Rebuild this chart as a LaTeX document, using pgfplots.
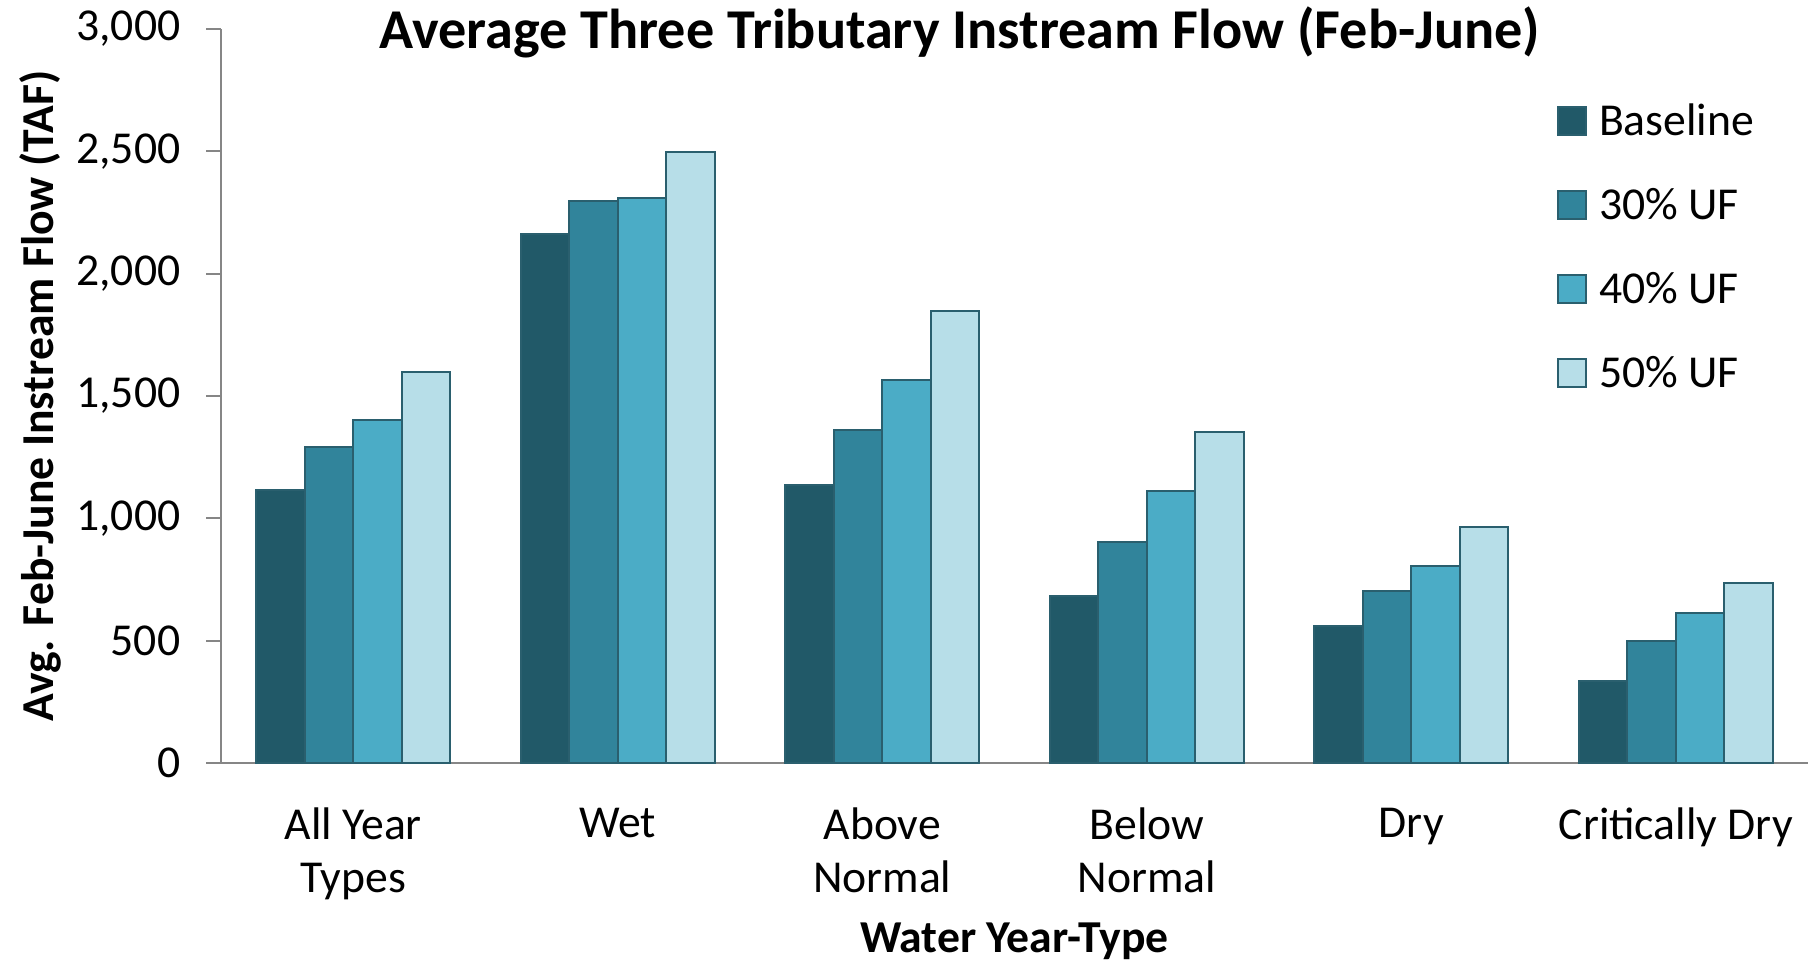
\documentclass[border=0pt]{standalone}
\usepackage{fontspec}
\setmainfont{Carlito}
\usepackage{pgfplots}
\pgfplotsset{compat=1.18}
\definecolor{cBase}{HTML}{215968}
\definecolor{cThirty}{HTML}{31849B}
\definecolor{cForty}{HTML}{4BACC6}
\definecolor{cFifty}{HTML}{B7DEE8}
\definecolor{cEdge}{HTML}{2A5F6E}
\definecolor{axisgray}{HTML}{868686}
\begin{document}
\begin{tikzpicture}
\path[use as bounding box] (0,0) rectangle (180.8mm,96mm);
\begin{axis}[
  at={(22.1mm,19.7mm)}, anchor=south west,
  scale only axis, width=158.7mm, height=73.4mm,
  xmin=-0.5, xmax=5.5, ymin=0, ymax=3000,
  ybar=0pt, bar width=4.84mm,
  axis x line*=bottom, axis y line*=left,
  axis line style={draw=axisgray, line width=0.2mm},
  xtick={0,1,2,3,4,5},
  xticklabels={{All Year\\Types},{Wet},{Above\\Normal},{Below\\Normal},{Dry},{Critically Dry}},
  x tick style={draw=none},
  xticklabel style={align=center, inner sep=0pt, yshift=-2.9mm, font=\fontsize{13}{15}\selectfont},
  ytick={0,500,1000,1500,2000,2500,3000},
  y tick style={draw=axisgray, line width=0.2mm},
  tick align=outside, major tick length=1.5mm,
  scaled y ticks=false,
  yticklabel style={/pgf/number format/.cd, 1000 sep={,}, assume math mode=true, /tikz/.cd, inner sep=0pt, xshift=-2.5mm, font=\fontsize{13}{15}\selectfont},
  xlabel={\fontsize{13}{15}\selectfont\bfseries Water Year-Type},
  xlabel style={at={(axis description cs:0.5,-0.2425)}, anchor=center, inner sep=0pt},
  ylabel={\fontsize{13}{15}\selectfont\bfseries Avg. Feb-June Instream Flow (TAF)},
  ylabel style={at={(axis description cs:-0.1141,0.5)}, anchor=center, inner sep=0pt},
  legend image code/.code={\draw[#1] (0mm,0mm) rectangle (2.8mm,2.8mm);},
  legend style={at={(rel axis cs:0.8419,0.895)}, anchor=north west, draw=none, fill=none,
    inner sep=0pt, outer sep=0pt, row sep=5.4mm, column sep=0pt,
    nodes={inner sep=0pt, text height=2.9mm, text depth=0pt, anchor=base west, font=\fontsize{13}{15}\selectfont}},
  clip=false,
]
\addplot[fill=cBase, draw=cEdge, line width=0.2mm] coordinates {(0,1116) (1,2162) (2,1135) (3,683) (4,560) (5,334)};
\addplot[fill=cThirty, draw=cEdge, line width=0.2mm] coordinates {(0,1290) (1,2299) (2,1361) (3,904) (4,702) (5,499)};
\addplot[fill=cForty, draw=cEdge, line width=0.2mm] coordinates {(0,1404) (1,2308) (2,1564) (3,1112) (4,805) (5,612)};
\addplot[fill=cFifty, draw=cEdge, line width=0.2mm] coordinates {(0,1597) (1,2496) (2,1846) (3,1352) (4,966) (5,735)};
\legend{\hspace*{1.2mm}Baseline, \hspace*{1.2mm}30\% UF, \hspace*{1.2mm}40\% UF, \hspace*{1.2mm}50\% UF}
\node[anchor=base, inner sep=0pt, font=\fontsize{16}{18}\selectfont\bfseries] at (rel axis cs:0.4657,0.974) {Average Three Tributary Instream Flow (Feb-June)};
\end{axis}
\end{tikzpicture}
\end{document}
